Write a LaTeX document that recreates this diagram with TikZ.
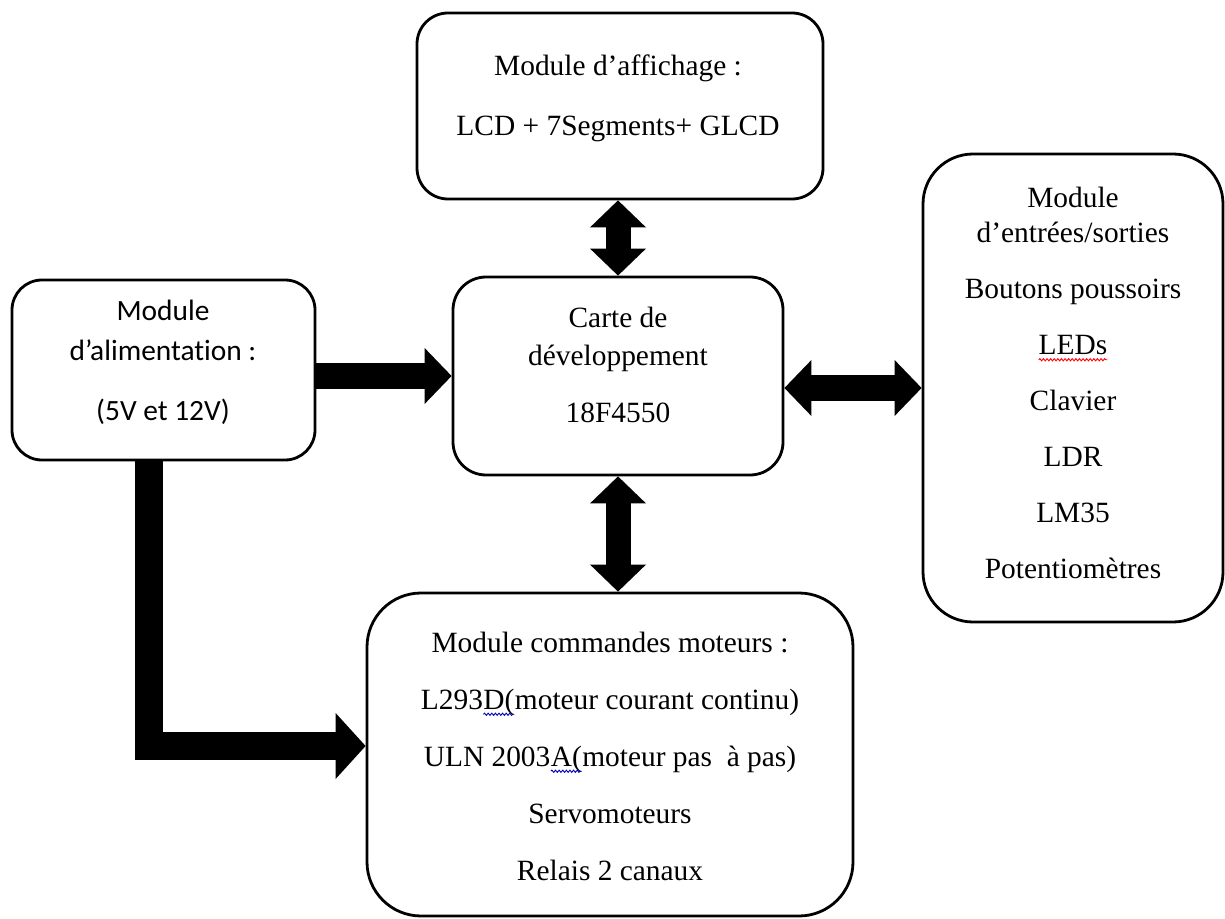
\documentclass[tikz,border=0pt]{standalone}
\usepackage{fontspec}
\setmainfont[Ligatures=CommonOff]{Liberation Serif}
\newfontfamily\calibri[Ligatures=CommonOff]{Carlito}
\usetikzlibrary{arrows.meta,positioning,decorations.pathmorphing}
% soulignement ondule (correcteur)
\newcommand\vague[2]{\tikz[baseline=(m.base)]{\node[inner sep=0pt,outer sep=0pt] (m) {#2};
  \draw[#1,line width=0.45pt,decorate,decoration={snake,amplitude=0.55pt,segment length=1.8pt}]
    ([yshift=-2.6pt]m.base west) -- ([yshift=-2.6pt]m.base east);}}

\begin{document}
\begin{tikzpicture}[x=0.5pt,y=-0.5pt,
  bloc/.style={draw,line width=1.4pt,inner sep=0pt},
  texte/.style={align=center,inner sep=0pt,font=\fontsize{14.7}{17.5}\selectfont},
  fleche/.style={line width=12.5pt,>={Triangle[length=13.5pt,width=28pt,line width=0pt]}}]
  \useasboundingbox (0,0) rectangle (1225,919);

  \node[bloc,minimum width=203pt,minimum height=93pt,rounded corners=15.5pt] (affichage) at (620,106) {};
  \node[bloc,minimum width=165pt,minimum height=99pt,rounded corners=16.5pt] (carte) at (618,376) {};
  \node[bloc,minimum width=151.5pt,minimum height=90pt,rounded corners=15pt] (alim) at (163.5,370) {};
  \node[bloc,minimum width=150pt,minimum height=234pt,rounded corners=25pt] (es) at (1073,388) {};
  \node[bloc,minimum width=243pt,minimum height=161.5pt,rounded corners=27pt] (commande) at (610,754.5) {};

  \node[texte] (taffichage) at (618,98) {Module d’affichage :\\[12.5pt] LCD + 7Segments+ GLCD};
  \node[texte] (tcarte) at (618,364.5) {Carte de\\[1.5pt] développement\\[11pt] 18F4550};
  \node[texte,font=\calibri\fontsize{14.7}{20}\selectfont] (talim) at (163,362) {Module\\ d’alimentation :\\[10pt] (5V et 12V)};
  \node[texte] (tes) at (1073,383) {Module\\ d’entrées/sorties\\[10.5pt] Boutons poussoirs\\[10.5pt] \vague{red}{LEDs}\\[10.5pt] Clavier\\[10.5pt] LDR\\[10.5pt] LM35\\[10.5pt] Potentiomètres};
  \node[texte] (tcommande) at (610,756) {Module commandes moteurs :\\[11pt] L293\vague{blue!70!black}{D(}moteur courant continu)\\[11pt] ULN 2003\vague{blue!70!black}{A(}moteur pas\ \ à pas)\\[11pt] Servomoteurs\\[11pt] Relais 2 canaux};

  \draw[fleche,<->] (carte.north) -- (carte.north |- affichage.south);
  \draw[fleche,<->] (carte.south) -- (carte.south |- commande.north);
  \draw[fleche,->] (carte.west -| alim.east) -- (carte.west);
  \draw[fleche,<->] (es.west -| carte.east) -- (es.west);
  % alimentation vers commandes moteurs
  \draw[fleche,->,line width=14pt,>={Triangle[length=15pt,width=33pt,line width=0pt]},line join=miter]
    ([xshift=-7.25pt]alim.south) |- ([yshift=4.25pt]commande.west);
\end{tikzpicture}
\end{document}
